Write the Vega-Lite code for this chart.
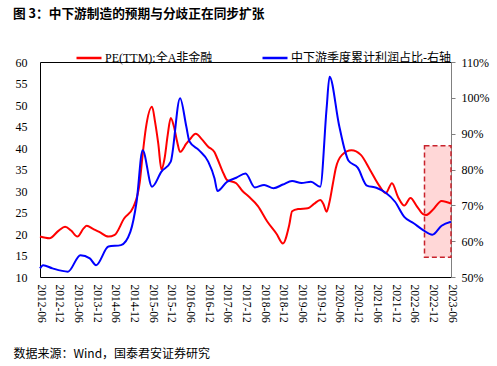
{
  "$schema": "https://vega.github.io/schema/vega-lite/v6.json",
  "width": 411,
  "height": 215,
  "autosize": {"type": "none"},
  "padding": {"left": 40, "top": 62, "right": 46, "bottom": 89},
  "title": {
    "text": "图 3：中下游制造的预期与分歧正在同步扩张",
    "anchor": "start",
    "frame": "group",
    "dx": -27,
    "offset": 23,
    "font": "Noto Sans CJK SC",
    "fontSize": 12.7,
    "fontWeight": "bold",
    "color": "#000000"
  },
  "config": {
    "view": {"stroke": "#000000", "strokeWidth": 1},
    "font": "Liberation Serif",
    "axis": {"grid": false, "labelFont": "Liberation Serif", "labelFontSize": 12, "labelColor": "#000000"}
  },
  "data": {
    "values": [
      {"date": "2012-06-01", "series": "PE(TTM):全A非金融", "value": 19.4},
      {"date": "2012-09-01", "series": "PE(TTM):全A非金融", "value": 19.0},
      {"date": "2012-12-01", "series": "PE(TTM):全A非金融", "value": 20.8},
      {"date": "2013-02-01", "series": "PE(TTM):全A非金融", "value": 21.7},
      {"date": "2013-04-01", "series": "PE(TTM):全A非金融", "value": 20.8},
      {"date": "2013-06-01", "series": "PE(TTM):全A非金融", "value": 19.4},
      {"date": "2013-08-01", "series": "PE(TTM):全A非金融", "value": 21.3},
      {"date": "2013-09-01", "series": "PE(TTM):全A非金融", "value": 21.9},
      {"date": "2013-11-01", "series": "PE(TTM):全A非金融", "value": 21.2},
      {"date": "2014-01-01", "series": "PE(TTM):全A非金融", "value": 20.5},
      {"date": "2014-04-01", "series": "PE(TTM):全A非金融", "value": 19.4},
      {"date": "2014-06-01", "series": "PE(TTM):全A非金融", "value": 19.8},
      {"date": "2014-09-01", "series": "PE(TTM):全A非金融", "value": 23.6},
      {"date": "2014-12-01", "series": "PE(TTM):全A非金融", "value": 26.3},
      {"date": "2015-02-01", "series": "PE(TTM):全A非金融", "value": 32.0},
      {"date": "2015-03-01", "series": "PE(TTM):全A非金融", "value": 38.4},
      {"date": "2015-04-01", "series": "PE(TTM):全A非金融", "value": 44.5},
      {"date": "2015-06-01", "series": "PE(TTM):全A非金融", "value": 49.6},
      {"date": "2015-07-01", "series": "PE(TTM):全A非金融", "value": 46.0},
      {"date": "2015-08-01", "series": "PE(TTM):全A非金融", "value": 41.0},
      {"date": "2015-09-01", "series": "PE(TTM):全A非金融", "value": 35.0},
      {"date": "2015-10-01", "series": "PE(TTM):全A非金融", "value": 37.5},
      {"date": "2015-11-01", "series": "PE(TTM):全A非金融", "value": 43.0},
      {"date": "2015-12-01", "series": "PE(TTM):全A非金融", "value": 47.0},
      {"date": "2016-01-01", "series": "PE(TTM):全A非金融", "value": 45.0},
      {"date": "2016-02-01", "series": "PE(TTM):全A非金融", "value": 41.5},
      {"date": "2016-03-01", "series": "PE(TTM):全A非金融", "value": 39.1},
      {"date": "2016-05-01", "series": "PE(TTM):全A非金融", "value": 41.0},
      {"date": "2016-06-01", "series": "PE(TTM):全A非金融", "value": 41.9},
      {"date": "2016-08-01", "series": "PE(TTM):全A非金融", "value": 43.3},
      {"date": "2016-10-01", "series": "PE(TTM):全A非金融", "value": 42.0},
      {"date": "2016-12-01", "series": "PE(TTM):全A非金融", "value": 40.3},
      {"date": "2017-02-01", "series": "PE(TTM):全A非金融", "value": 39.0},
      {"date": "2017-03-01", "series": "PE(TTM):全A非金融", "value": 37.5},
      {"date": "2017-05-01", "series": "PE(TTM):全A非金融", "value": 34.0},
      {"date": "2017-06-01", "series": "PE(TTM):全A非金融", "value": 32.6},
      {"date": "2017-09-01", "series": "PE(TTM):全A非金融", "value": 31.8},
      {"date": "2017-11-01", "series": "PE(TTM):全A非金融", "value": 30.0},
      {"date": "2018-01-01", "series": "PE(TTM):全A非金融", "value": 28.7},
      {"date": "2018-04-01", "series": "PE(TTM):全A非金融", "value": 26.5},
      {"date": "2018-07-01", "series": "PE(TTM):全A非金融", "value": 22.9},
      {"date": "2018-10-01", "series": "PE(TTM):全A非金融", "value": 20.0},
      {"date": "2018-12-01", "series": "PE(TTM):全A非金融", "value": 17.8},
      {"date": "2019-02-01", "series": "PE(TTM):全A非金融", "value": 22.1},
      {"date": "2019-03-01", "series": "PE(TTM):全A非金融", "value": 25.3},
      {"date": "2019-05-01", "series": "PE(TTM):全A非金融", "value": 25.8},
      {"date": "2019-08-01", "series": "PE(TTM):全A非金融", "value": 26.0},
      {"date": "2019-10-01", "series": "PE(TTM):全A非金融", "value": 27.0},
      {"date": "2019-12-01", "series": "PE(TTM):全A非金融", "value": 27.9},
      {"date": "2020-01-01", "series": "PE(TTM):全A非金融", "value": 27.0},
      {"date": "2020-02-01", "series": "PE(TTM):全A非金融", "value": 25.2},
      {"date": "2020-03-01", "series": "PE(TTM):全A非金融", "value": 27.5},
      {"date": "2020-04-01", "series": "PE(TTM):全A非金融", "value": 31.5},
      {"date": "2020-05-01", "series": "PE(TTM):全A非金融", "value": 35.3},
      {"date": "2020-07-01", "series": "PE(TTM):全A非金融", "value": 38.4},
      {"date": "2020-10-01", "series": "PE(TTM):全A非金融", "value": 39.5},
      {"date": "2021-01-01", "series": "PE(TTM):全A非金融", "value": 38.4},
      {"date": "2021-04-01", "series": "PE(TTM):全A非金融", "value": 34.9},
      {"date": "2021-07-01", "series": "PE(TTM):全A非金融", "value": 31.2},
      {"date": "2021-09-01", "series": "PE(TTM):全A非金融", "value": 29.5},
      {"date": "2021-11-01", "series": "PE(TTM):全A非金融", "value": 31.8},
      {"date": "2022-01-01", "series": "PE(TTM):全A非金融", "value": 28.5},
      {"date": "2022-03-01", "series": "PE(TTM):全A非金融", "value": 26.6},
      {"date": "2022-05-01", "series": "PE(TTM):全A非金融", "value": 28.4},
      {"date": "2022-07-01", "series": "PE(TTM):全A非金融", "value": 26.5},
      {"date": "2022-09-01", "series": "PE(TTM):全A非金融", "value": 24.6},
      {"date": "2022-10-01", "series": "PE(TTM):全A非金融", "value": 24.4},
      {"date": "2022-12-01", "series": "PE(TTM):全A非金融", "value": 25.5},
      {"date": "2023-03-01", "series": "PE(TTM):全A非金融", "value": 27.7},
      {"date": "2023-06-01", "series": "PE(TTM):全A非金融", "value": 27.1},

      {"date": "2012-06-01", "series": "中下游季度累计利润占比-右轴", "value": 52.4},
      {"date": "2012-07-01", "series": "中下游季度累计利润占比-右轴", "value": 53.3},
      {"date": "2012-10-01", "series": "中下游季度累计利润占比-右轴", "value": 52.4},
      {"date": "2013-03-01", "series": "中下游季度累计利润占比-右轴", "value": 51.5},
      {"date": "2013-07-01", "series": "中下游季度累计利润占比-右轴", "value": 56.1},
      {"date": "2013-10-01", "series": "中下游季度累计利润占比-右轴", "value": 55.2},
      {"date": "2013-12-01", "series": "中下游季度累计利润占比-右轴", "value": 53.3},
      {"date": "2014-04-01", "series": "中下游季度累计利润占比-右轴", "value": 58.5},
      {"date": "2014-08-01", "series": "中下游季度累计利润占比-右轴", "value": 58.9},
      {"date": "2014-11-01", "series": "中下游季度累计利润占比-右轴", "value": 62.6},
      {"date": "2015-01-01", "series": "中下游季度累计利润占比-右轴", "value": 71.0},
      {"date": "2015-03-01", "series": "中下游季度累计利润占比-右轴", "value": 85.4},
      {"date": "2015-06-01", "series": "中下游季度累计利润占比-右轴", "value": 75.2},
      {"date": "2015-09-01", "series": "中下游季度累计利润占比-右轴", "value": 79.4},
      {"date": "2015-12-01", "series": "中下游季度累计利润占比-右轴", "value": 82.2},
      {"date": "2016-03-01", "series": "中下游季度累计利润占比-右轴", "value": 99.9},
      {"date": "2016-05-01", "series": "中下游季度累计利润占比-右轴", "value": 92.0},
      {"date": "2016-06-01", "series": "中下游季度累计利润占比-右轴", "value": 87.8},
      {"date": "2016-09-01", "series": "中下游季度累计利润占比-右轴", "value": 85.4},
      {"date": "2016-12-01", "series": "中下游季度累计利润占比-右轴", "value": 82.2},
      {"date": "2017-02-01", "series": "中下游季度累计利润占比-右轴", "value": 77.5},
      {"date": "2017-03-01", "series": "中下游季度累计利润占比-右轴", "value": 74.0},
      {"date": "2017-06-01", "series": "中下游季度累计利润占比-右轴", "value": 76.5},
      {"date": "2017-09-01", "series": "中下游季度累计利润占比-右轴", "value": 77.7},
      {"date": "2017-12-01", "series": "中下游季度累计利润占比-右轴", "value": 78.9},
      {"date": "2018-03-01", "series": "中下游季度累计利润占比-右轴", "value": 75.0},
      {"date": "2018-06-01", "series": "中下游季度累计利润占比-右轴", "value": 75.7},
      {"date": "2018-09-01", "series": "中下游季度累计利润占比-右轴", "value": 74.8},
      {"date": "2018-12-01", "series": "中下游季度累计利润占比-右轴", "value": 75.8},
      {"date": "2019-03-01", "series": "中下游季度累计利润占比-右轴", "value": 76.8},
      {"date": "2019-06-01", "series": "中下游季度累计利润占比-右轴", "value": 76.2},
      {"date": "2019-09-01", "series": "中下游季度累计利润占比-右轴", "value": 76.6},
      {"date": "2019-12-01", "series": "中下游季度累计利润占比-右轴", "value": 75.2},
      {"date": "2020-02-01", "series": "中下游季度累计利润占比-右轴", "value": 97.0},
      {"date": "2020-03-01", "series": "中下游季度累计利润占比-右轴", "value": 105.9},
      {"date": "2020-06-01", "series": "中下游季度累计利润占比-右轴", "value": 92.5},
      {"date": "2020-08-01", "series": "中下游季度累计利润占比-右轴", "value": 85.0},
      {"date": "2020-09-01", "series": "中下游季度累计利润占比-右轴", "value": 82.5},
      {"date": "2020-12-01", "series": "中下游季度累计利润占比-右轴", "value": 80.5},
      {"date": "2021-03-01", "series": "中下游季度累计利润占比-右轴", "value": 75.5},
      {"date": "2021-06-01", "series": "中下游季度累计利润占比-右轴", "value": 74.9},
      {"date": "2021-09-01", "series": "中下游季度累计利润占比-右轴", "value": 73.5},
      {"date": "2021-12-01", "series": "中下游季度累计利润占比-右轴", "value": 71.0},
      {"date": "2022-03-01", "series": "中下游季度累计利润占比-右轴", "value": 66.8},
      {"date": "2022-06-01", "series": "中下游季度累计利润占比-右轴", "value": 65.0},
      {"date": "2022-09-01", "series": "中下游季度累计利润占比-右轴", "value": 63.1},
      {"date": "2022-12-01", "series": "中下游季度累计利润占比-右轴", "value": 61.8},
      {"date": "2023-03-01", "series": "中下游季度累计利润占比-右轴", "value": 64.3},
      {"date": "2023-06-01", "series": "中下游季度累计利润占比-右轴", "value": 65.4}
    ]
  },
  "encoding": {
    "x": {
      "field": "date",
      "type": "temporal",
      "scale": {"type": "utc", "domain": [{"year": 2012, "month": 6, "date": 1, "utc": true}, {"year": 2023, "month": 6, "date": 1, "utc": true}]},
      "axis": {
        "values": [
          {"year": 2012, "month": 6, "date": 1, "utc": true}, {"year": 2012, "month": 12, "date": 1, "utc": true},
          {"year": 2013, "month": 6, "date": 1, "utc": true}, {"year": 2013, "month": 12, "date": 1, "utc": true},
          {"year": 2014, "month": 6, "date": 1, "utc": true}, {"year": 2014, "month": 12, "date": 1, "utc": true},
          {"year": 2015, "month": 6, "date": 1, "utc": true}, {"year": 2015, "month": 12, "date": 1, "utc": true},
          {"year": 2016, "month": 6, "date": 1, "utc": true}, {"year": 2016, "month": 12, "date": 1, "utc": true},
          {"year": 2017, "month": 6, "date": 1, "utc": true}, {"year": 2017, "month": 12, "date": 1, "utc": true},
          {"year": 2018, "month": 6, "date": 1, "utc": true}, {"year": 2018, "month": 12, "date": 1, "utc": true},
          {"year": 2019, "month": 6, "date": 1, "utc": true}, {"year": 2019, "month": 12, "date": 1, "utc": true},
          {"year": 2020, "month": 6, "date": 1, "utc": true}, {"year": 2020, "month": 12, "date": 1, "utc": true},
          {"year": 2021, "month": 6, "date": 1, "utc": true}, {"year": 2021, "month": 12, "date": 1, "utc": true},
          {"year": 2022, "month": 6, "date": 1, "utc": true}, {"year": 2022, "month": 12, "date": 1, "utc": true},
          {"year": 2023, "month": 6, "date": 1, "utc": true}
        ],
        "labelExpr": "utcFormat(datum.value, '%Y-%m')",
        "labelAngle": 90,
        "labelPadding": 7,
        "labelFontSize": 11.5,
        "labelOverlap": false,
        "labelBound": false,
        "labelFlush": false,
        "ticks": false,
        "domain": false,
        "title": "数据来源：Wind，国泰君安证券研究",
        "titleFont": "Noto Sans CJK SC",
        "titleFontSize": 12,
        "titleFontWeight": "normal",
        "titleColor": "#000000",
        "titleAnchor": "start",
        "titleAlign": "left",
        "titleBaseline": "middle",
        "titleX": -27,
        "titleY": 76
      }
    }
  },
  "layer": [
    {
      "layer": [
        {
          "data": {"values": [{"start": "2022-09-15", "end": "2023-06-01", "low": 14.6, "high": 40.5}]},
          "mark": {"type": "rect", "fill": "#ffd7d7", "stroke": "#c8232c", "strokeWidth": 1.5, "strokeDash": [5, 3]},
          "encoding": {
            "x": {"field": "start", "type": "temporal"},
            "x2": {"field": "end"},
            "y": {"field": "low", "type": "quantitative", "scale": {"domain": [10, 60], "nice": false, "zero": false},
              "axis": {"orient": "left", "values": [10, 15, 20, 25, 30, 35, 40, 45, 50, 55, 60], "ticks": false, "domain": false, "labelPadding": 13, "title": null}},
            "y2": {"field": "high"}
          }
        },
        {
          "transform": [{"filter": "datum.series === 'PE(TTM):全A非金融'"}],
          "mark": {"type": "line", "interpolate": "monotone", "strokeWidth": 2},
          "encoding": {
            "y": {"field": "value", "type": "quantitative", "scale": {"domain": [10, 60], "nice": false, "zero": false},
              "axis": {"orient": "left", "values": [10, 15, 20, 25, 30, 35, 40, 45, 50, 55, 60], "ticks": false, "domain": false, "labelPadding": 13, "title": null}},
            "color": {
              "field": "series", "type": "nominal",
              "scale": {"domain": ["PE(TTM):全A非金融", "中下游季度累计利润占比-右轴"], "range": ["#ff0000", "#0000ff"]},
              "legend": {
                "orient": "none", "direction": "horizontal", "legendX": 35, "legendY": -18,
                "title": null, "symbolType": "stroke", "symbolSize": 625, "symbolStrokeWidth": 2.5,
                "labelFont": "Liberation Serif, Noto Sans CJK SC", "labelFontSize": 12, "labelColor": "#000000",
                "labelOffset": 2, "columnPadding": 44, "labelLimit": 300
              }
            }
          }
        }
      ]
    },
    {
      "transform": [{"filter": "datum.series === '中下游季度累计利润占比-右轴'"}],
      "mark": {"type": "line", "interpolate": "monotone", "strokeWidth": 2},
      "encoding": {
        "y": {"field": "value", "type": "quantitative", "scale": {"domain": [50, 110], "nice": false, "zero": false},
          "axis": {"orient": "right", "values": [50, 60, 70, 80, 90, 100, 110], "labelExpr": "datum.value + '%'", "tickSize": 4, "tickColor": "#808080", "domainColor": "#808080", "labelPadding": 6, "title": null}},
        "color": {"field": "series", "type": "nominal"}
      }
    }
  ],
  "resolve": {"scale": {"y": "independent"}}
}
